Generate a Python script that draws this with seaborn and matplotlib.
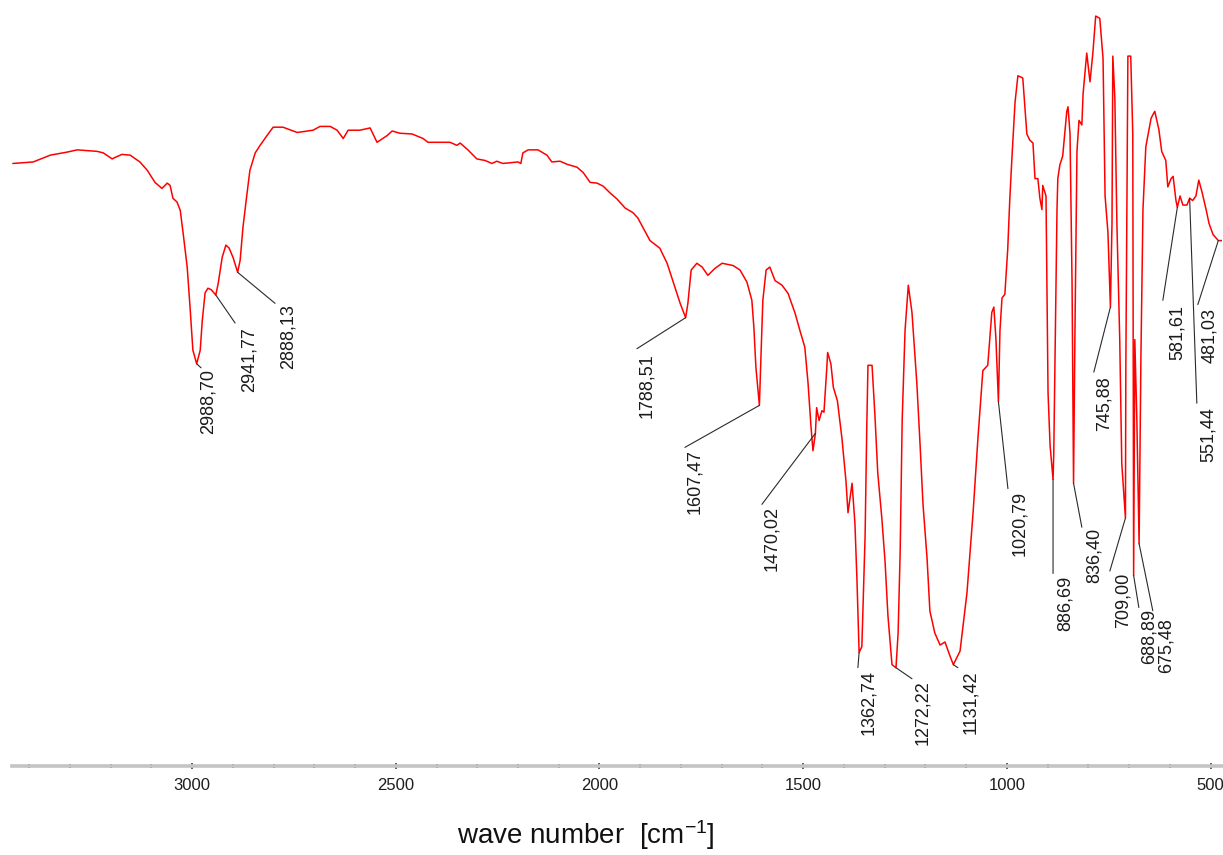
import numpy as np
import pandas as pd
import matplotlib
matplotlib.use("Agg")
import matplotlib.pyplot as plt
from matplotlib.ticker import MultipleLocator
import seaborn as sns

# ---------------- data ----------------
wavenumber = [
    3440, 3390, 3348, 3307, 3282, 3233, 3218, 3196, 3189, 3172, 3152, 3128, 3110, 3091,
    3074, 3061, 3054, 3047, 3037, 3029, 3022, 3012, 3005, 2998, 2988.70, 2980, 2975, 2968,
    2961, 2953, 2941.77, 2936, 2926, 2917, 2909, 2899, 2888.13, 2882, 2875, 2865, 2858,
    2845, 2833, 2816, 2801, 2777, 2742, 2703, 2686, 2661, 2644, 2629, 2617, 2588, 2563,
    2546, 2521, 2509, 2490, 2460, 2433, 2421, 2391, 2367, 2350, 2342, 2323, 2301, 2281,
    2264, 2252, 2237, 2200, 2193, 2188, 2175, 2151, 2129, 2117, 2097, 2080, 2055, 2040,
    2023, 2006, 1991, 1974, 1957, 1937, 1918, 1906, 1876, 1852, 1834, 1820, 1802, 1788.51,
    1783, 1775, 1761, 1748, 1734, 1717, 1699, 1672, 1655, 1638, 1626, 1621, 1616, 1607.47,
    1604, 1599, 1591, 1582, 1569, 1552, 1537, 1520, 1508, 1496, 1488, 1481, 1476, 1470.02,
    1467, 1461, 1454, 1449, 1442, 1440, 1432, 1426, 1416, 1405, 1395, 1390, 1380, 1373,
    1368, 1362.74, 1356, 1348, 1344, 1341, 1331, 1324, 1317, 1307, 1299, 1292, 1282,
    1272.22, 1267, 1262, 1257, 1250, 1242, 1233, 1221, 1213, 1206, 1196, 1189, 1177,
    1164, 1152, 1140, 1131.42, 1115, 1098, 1083, 1071, 1059, 1047, 1037, 1032, 1027,
    1020.79, 1017, 1012, 1005, 998, 993, 988, 980, 973, 961, 951, 944, 936, 931, 924,
    919, 914, 912, 904, 899, 894, 886.69, 885, 877, 875, 870, 863, 853, 850, 845, 840,
    836.40, 833, 828, 823, 816, 813, 804, 796, 789, 782, 772, 764, 759, 752, 745.88,
    742, 740, 735, 730, 723, 718, 709.00, 708, 705, 703, 696, 691, 688.89, 686, 681,
    675.48, 671, 666, 659, 646, 637, 627, 620, 610, 605, 597, 592, 585, 581.61, 575,
    568, 558, 551.44, 544, 536, 529, 521, 511, 504, 494, 481.03, 472,
]
transmittance = [
    79.7, 79.9, 80.8, 81.2, 81.5, 81.3, 81.1, 80.3, 80.5, 80.9, 80.8, 79.9, 78.8, 77.2,
    76.4, 77.1, 76.8, 75.1, 74.6, 73.5, 70.5, 66.0, 60.7, 55.0, 53.2, 55.0, 58.9, 62.6,
    63.2, 63.0, 62.3, 63.8, 67.3, 68.9, 68.5, 67.2, 65.3, 66.9, 71.3, 75.8, 78.8,
    81.1, 82.1, 83.4, 84.5, 84.5, 83.8, 84.1, 84.6, 84.6, 84.1, 83.0, 84.1, 84.1, 84.4,
    82.5, 83.4, 84.0, 83.7, 83.6, 83.0, 82.5, 82.5, 82.5, 82.1, 82.4, 81.5, 80.3, 80.1,
    79.7, 80.0, 79.7, 79.9, 79.7, 81.1, 81.5, 81.5, 80.8, 79.9, 80.0, 79.6, 79.2, 78.5,
    77.2, 77.1, 76.7, 75.8, 75.0, 73.8, 73.2, 72.5, 69.5, 68.5, 66.5, 64.2, 61.2, 59.3,
    61.2, 65.6, 66.5, 66.0, 64.9, 65.8, 66.5, 66.2, 65.6, 64.0, 61.6, 58.0, 52.7, 47.7,
    53.6, 61.6, 65.6, 66.0, 64.2, 63.6, 62.5, 59.9, 57.6, 55.4, 50.6, 45.0, 41.7, 44.0,
    47.4, 45.7, 47.0, 46.8, 52.7, 54.7, 53.2, 50.1, 48.3, 43.4, 37.7, 33.5, 37.4, 32.1,
    24.6, 15.0, 15.8, 30.5, 44.6, 53.0, 53.0, 46.5, 38.8, 32.8, 27.0, 19.9, 13.4,
    13.0, 17.6, 28.2, 45.8, 57.6, 63.6, 60.0, 50.6, 42.4, 34.7, 27.5, 20.5, 17.6,
    16.0, 16.4, 14.6, 13.4, 15.2, 22.9, 33.5, 43.4, 52.3, 53.0, 60.0, 60.7, 56.6,
    48.2, 57.6, 61.9, 62.4, 68.3, 74.8, 80.1, 87.8, 91.3, 91.0, 83.6, 82.8, 82.4, 77.7, 77.7,
    75.1, 73.6, 76.8, 75.4, 49.4, 42.4, 37.9, 41.2, 73.6, 77.7, 79.5, 80.7, 86.6, 87.2, 83.6, 63.6,
    37.4, 57.1, 81.3, 85.4, 84.8, 88.9, 94.3, 90.5, 94.3, 99.2, 98.9, 93.6, 75.4, 70.6, 60.7,
    71.8, 93.9, 88.3, 71.8, 56.4, 40.0, 32.8, 53.0, 77.7, 93.9, 93.9, 83.6, 25.2, 56.4, 45.8,
    29.4, 54.2, 73.6, 81.9, 85.7, 86.6, 84.2, 81.3, 80.1, 76.6, 77.7, 78.0, 74.8, 73.9, 75.4,
    74.2, 74.2, 75.1, 74.8, 75.4, 77.5, 75.9, 73.6, 71.8, 70.3, 69.5, 69.5,
]

peak_labels = ["2988,70", "2941,77", "2888,13", "1788,51", "1607,47", "1470,02",
               "1362,74", "1272,22", "1131,42", "1020,79", "886,69", "836,40",
               "745,88", "709,00", "688,89", "675,48", "581,61", "551,44", "481,03"]
peak_wavenumber = [2988.70, 2941.77, 2888.13, 1788.51, 1607.47, 1470.02,
                   1362.74, 1272.22, 1131.42, 1020.79, 886.69, 836.40,
                   745.88, 709.00, 688.89, 675.48, 581.61, 551.44, 481.03]

x_ticks = [3000, 2500, 2000, 1500, 1000, 500]

# ---------------- layout (pixel offsets of leader-line ends and label tops) ----------------
line_offsets = [(4.4, -4), (19.3, -28), (37.4, -31), (-48.7, -31), (-74.5, -42), (-53.5, -71),
                (-1.2, -15), (16, -11), (4.6, -3), (9.5, -87), (0, -94), (8.3, -44),
                (-16.6, -65), (-15.6, -53), (5.2, -32), (13.7, -67), (-14.5, -93), (7.2, -205),
                (-20.5, -64)]
text_offsets = [(11.4, -5), (33.3, -32), (50.4, -32), (-38.7, -36), (-64.5, -44), (-43.5, -73),
                (9.8, -18), (27, -13), (17.6, -6), (21.5, -89), (12, -96), (20.3, -45),
                (-6.6, -69), (-2.6, -55), (15.2, -33), (26.7, -74), (-0.5, -98), (18.2, -209),
                (-8.5, -67)]

# ---------------- style ----------------
sns.set_style("white")
plt.rcParams["font.family"] = ["Liberation Sans", "DejaVu Sans"]
plt.rcParams["mathtext.fontset"] = "custom"
plt.rcParams["mathtext.rm"] = "Liberation Sans"
plt.rcParams["mathtext.default"] = "regular"

fig = plt.figure(figsize=(12.23, 8.55), dpi=100)
ax = fig.add_axes([12 / 1223, 89 / 855, 1210 / 1223, 756 / 855])

df = pd.DataFrame({"wavenumber": wavenumber, "transmittance": transmittance})
sns.lineplot(data=df, x="wavenumber", y="transmittance", ax=ax, color="#ff0000",
             linewidth=1.1, sort=False, estimator=None)

ax.set_xlim(3442, 472)
ax.set_ylim(0, 100)
for s in ["top", "left", "right"]:
    ax.spines[s].set_visible(False)
ax.spines["bottom"].set_color("#c4c4c4")
ax.spines["bottom"].set_linewidth(2.6)
ax.set_yticks([])
ax.set_ylabel("")
ax.set_xticks(x_ticks)
ax.set_xticklabels([str(t) for t in x_ticks])
ax.xaxis.set_minor_locator(MultipleLocator(100))
ax.tick_params(axis="x", which="major", direction="inout", length=5, width=1.1,
               color="#333333", labelsize=12, pad=6, labelcolor="#1e1e1e", bottom=True)
ax.tick_params(axis="x", which="minor", direction="inout", length=2.5, width=1.1,
               color="#333333", bottom=True)

ax.set_xlabel("wave number  [cm$^{-1}$]", fontsize=20, color="#111111")
ax.xaxis.label.set_va("center")
ax.xaxis.set_label_coords((586 - 12) / 1210, (766 - 835) / 756)

# ---------------- peak annotations ----------------
wn_arr = np.array(wavenumber)[::-1]
tr_arr = np.array(transmittance)[::-1]
peak_T = np.interp(peak_wavenumber, wn_arr, tr_arr)

for lab, pw, pt, lo, to in zip(peak_labels, peak_wavenumber, peak_T, line_offsets, text_offsets):
    ax.annotate("", xy=(pw, pt), xytext=lo, textcoords="offset pixels",
                arrowprops=dict(arrowstyle="-", color="#2a2a2a", lw=0.8,
                                shrinkA=0, shrinkB=0))
    ax.annotate(lab, xy=(pw, pt), xytext=to, textcoords="offset pixels",
                rotation=90, ha="center", va="top", fontsize=13, color="#1a1a1a")

fig.savefig("out.png", dpi=100)
